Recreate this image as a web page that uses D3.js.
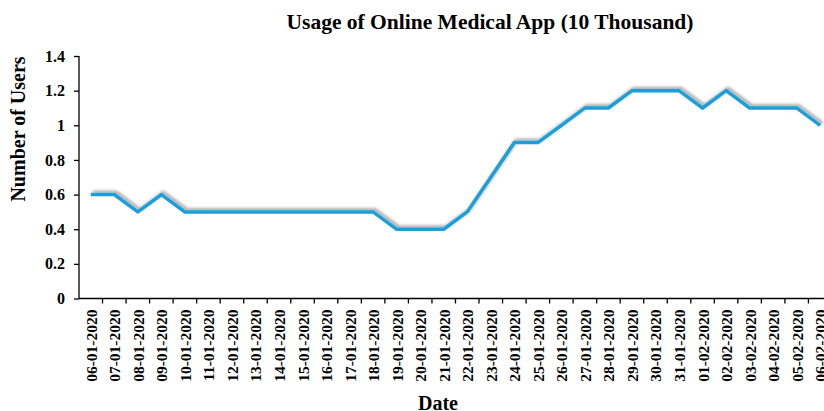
<!DOCTYPE html>
<html>
<head>
<meta charset="utf-8">
<script src="https://cdn.jsdelivr.net/npm/d3@7"></script>
<style>
  body { margin: 0; background: #fff; }
  svg { display: block; font-family: "Liberation Serif", "Times New Roman", serif; }
</style>
</head>
<body>
<svg id="chart" width="824" height="411"></svg>
<script>
const dates = [
  '06-01-2020', '07-01-2020', '08-01-2020', '09-01-2020', '10-01-2020', '11-01-2020',
  '12-01-2020', '13-01-2020', '14-01-2020', '15-01-2020', '16-01-2020', '17-01-2020',
  '18-01-2020', '19-01-2020', '20-01-2020', '21-01-2020', '22-01-2020', '23-01-2020',
  '24-01-2020', '25-01-2020', '26-01-2020', '27-01-2020', '28-01-2020', '29-01-2020',
  '30-01-2020', '31-01-2020', '01-02-2020', '02-02-2020', '03-02-2020', '04-02-2020',
  '05-02-2020', '06-02-2020'
];
const users = [
  0.6, 0.6, 0.5, 0.6, 0.5, 0.5,
  0.5, 0.5, 0.5, 0.5, 0.5, 0.5,
  0.5, 0.4, 0.4, 0.4, 0.5, 0.7,
  0.9, 0.9, 1.0, 1.1, 1.1, 1.2,
  1.2, 1.2, 1.1, 1.2, 1.1, 1.1,
  1.1, 1.0
];
const yTicks = [0, 0.2, 0.4, 0.6, 0.8, 1, 1.2, 1.4];

const svg = d3.select('#chart');
const left = 79;
const bandW = 23.53;

const x = d3.scaleBand()
  .domain(dates)
  .range([left, left + bandW * dates.length]);

const y = d3.scaleLinear()
  .domain([0, 1.4])
  .range([298.5, 56]);

// shadow under the line
const defs = svg.append('defs');
const f = defs.append('filter').attr('id', 'shadow')
  .attr('x', '-5%').attr('y', '-20%').attr('width', '110%').attr('height', '140%');
f.append('feGaussianBlur').attr('in', 'SourceAlpha').attr('stdDeviation', 1.5).attr('result', 'blur');
f.append('feOffset').attr('in', 'blur').attr('dx', 1.5).attr('dy', -2.5).attr('result', 'off');
f.append('feFlood').attr('flood-color', '#000').attr('flood-opacity', 0.35);
f.append('feComposite').attr('in2', 'off').attr('operator', 'in').attr('result', 'sh');
const merge = f.append('feMerge');
merge.append('feMergeNode').attr('in', 'sh');
merge.append('feMergeNode').attr('in', 'SourceGraphic');

// y axis
const yAxis = svg.append('g')
  .attr('transform', `translate(${left},0)`)
  .call(d3.axisLeft(y).tickValues(yTicks).tickSize(5).tickPadding(9).tickFormat(d3.format('~g')));
yAxis.selectAll('text').attr('font-size', 16).attr('font-weight', 'bold').attr('fill', '#000')
  .attr('font-family', '"Liberation Serif", serif');
yAxis.selectAll('line, path').attr('stroke', '#000').attr('stroke-width', 1.3);
yAxis.select('.domain').attr('d', `M0,${y(1.4)}V${y(0)}`);

// x axis with ticks at band edges
const xg = svg.append('g').attr('transform', `translate(0,${y(0)})`);
xg.append('line')
  .attr('x1', left).attr('x2', left + bandW * dates.length)
  .attr('stroke', '#000').attr('stroke-width', 1.3);
xg.selectAll('.tk')
  .data(dates)
  .enter()
  .append('line')
  .attr('x1', d => x(d) + bandW).attr('x2', d => x(d) + bandW)
  .attr('y1', 0).attr('y2', 5)
  .attr('stroke', '#000').attr('stroke-width', 1.3);
xg.selectAll('.lbl')
  .data(dates)
  .enter()
  .append('text')
  .attr('transform', d => `translate(${x(d) + bandW / 2 + 6},11)rotate(-90)`)
  .attr('text-anchor', 'end')
  .attr('font-size', 15.5)
  .attr('font-weight', 'bold')
  .text(d => d);

// line
const line = d3.line()
  .x((d, i) => x(dates[i]) + bandW / 2)
  .y(d => y(d));
svg.append('path')
  .datum(users)
  .attr('d', line)
  .attr('fill', 'none')
  .attr('stroke', '#1f9ed9')
  .attr('stroke-width', 3.5)
  .attr('stroke-linejoin', 'miter')
  .attr('filter', 'url(#shadow)');

// titles
svg.append('text')
  .attr('x', 490).attr('y', 29)
  .attr('text-anchor', 'middle')
  .attr('font-size', 21.5).attr('font-weight', 'bold')
  .text('Usage of Online Medical App (10 Thousand)');

svg.append('text')
  .attr('transform', 'translate(25,129)rotate(-90)')
  .attr('text-anchor', 'middle')
  .attr('font-size', 20).attr('font-weight', 'bold')
  .text('Number of Users');

svg.append('text')
  .attr('x', 438).attr('y', 410)
  .attr('text-anchor', 'middle')
  .attr('font-size', 20).attr('font-weight', 'bold')
  .text('Date');
</script>
</body>
</html>
